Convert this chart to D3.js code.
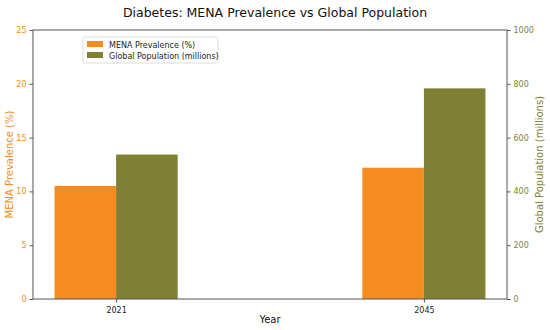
<!DOCTYPE html>
<html lang="en">
<head>
    <meta charset="UTF-8">
    <title>Diabetes: MENA Prevalence vs Global Population</title>
    <script src="https://d3js.org/d3.v7.min.js"></script>
    <style>
        body { margin: 0; background: #fff; font-family: 'DejaVu Sans', sans-serif; }
        svg text { font-family: 'DejaVu Sans', sans-serif; }
    </style>
</head>
<body>
    <svg id="chart" width="550" height="330"></svg>
    <script>
        // data
        const years = ["2021", "2045"];
        const menaPrevalence = [10.5, 12.2];      // %
        const globalPopulation = [537, 783];       // millions
        const leftTicks = [0, 5, 10, 15, 20, 25];
        const rightTicks = [0, 200, 400, 600, 800, 1000];

        const orange = "#f68b20";
        const olive = "#808034";

        const svg = d3.select("#chart"),
              margin = { top: 30, right: 43, bottom: 31, left: 33 },
              width = +svg.attr("width") - margin.left - margin.right,
              height = +svg.attr("height") - margin.top - margin.bottom,
              g = svg.append("g").attr("transform", `translate(${margin.left},${margin.top})`);

        const barW = 0.2;
        // numeric x like matplotlib: bars span -0.2..1.2 with 5% padding
        const x = d3.scaleLinear().domain([-0.27, 1.27]).range([0, width]);
        const yL = d3.scaleLinear().domain([0, 25]).range([height, 0]);
        const yR = d3.scaleLinear().domain([0, 1000]).range([height, 0]);

        // bars
        g.selectAll(".mena").data(menaPrevalence).join("rect")
            .attr("x", (d, i) => x(i - barW))
            .attr("width", x(barW) - x(0))
            .attr("y", d => yL(d))
            .attr("height", d => height - yL(d))
            .attr("fill", orange);

        g.selectAll(".pop").data(globalPopulation).join("rect")
            .attr("x", (d, i) => x(i))
            .attr("width", x(barW) - x(0))
            .attr("y", d => yR(d))
            .attr("height", d => height - yR(d))
            .attr("fill", olive);

        // frame
        g.append("rect").attr("width", width).attr("height", height)
            .attr("fill", "none").attr("stroke", "#555").attr("stroke-width", 1);

        // axes
        const xAxis = g.append("g").attr("transform", `translate(0,${height})`)
            .call(d3.axisBottom(x).tickValues([0, 1]).tickFormat(i => years[i]).tickSize(3.5).tickSizeOuter(0));
        xAxis.select(".domain").remove();
        xAxis.selectAll("text").attr("font-size", 8).attr("fill", "#222").attr("dy", "0.9em");
        xAxis.selectAll("line").attr("stroke", "#555");

        const lAxis = g.append("g")
            .call(d3.axisLeft(yL).tickValues(leftTicks).tickFormat(d3.format("d")).tickSize(3.5).tickSizeOuter(0));
        lAxis.select(".domain").remove();
        lAxis.selectAll("text").attr("font-size", 8).attr("fill", orange);
        lAxis.selectAll("line").attr("stroke", "#555");

        const rAxis = g.append("g").attr("transform", `translate(${width},0)`)
            .call(d3.axisRight(yR).tickValues(rightTicks).tickFormat(d3.format("d")).tickSize(3.5).tickSizeOuter(0));
        rAxis.select(".domain").remove();
        rAxis.selectAll("text").attr("font-size", 8).attr("fill", olive);
        rAxis.selectAll("line").attr("stroke", "#555");

        // labels
        svg.append("text").attr("x", 275).attr("y", 17).attr("text-anchor", "middle")
            .attr("font-size", 12.5).attr("fill", "#111")
            .text("Diabetes: MENA Prevalence vs Global Population");

        svg.append("text").attr("x", margin.left + width / 2).attr("y", 323).attr("text-anchor", "middle")
            .attr("font-size", 10).attr("fill", "#111").text("Year");

        svg.append("text")
            .attr("transform", `translate(13,${margin.top + height / 2}) rotate(-90)`)
            .attr("text-anchor", "middle").attr("font-size", 10).attr("fill", orange)
            .text("MENA Prevalence (%)");

        svg.append("text")
            .attr("transform", `translate(543,${margin.top + height / 2}) rotate(-90)`)
            .attr("text-anchor", "middle").attr("font-size", 10).attr("fill", olive)
            .text("Global Population (millions)");

        // legend
        const legend = svg.append("g").attr("transform", "translate(83,37)");
        legend.append("rect").attr("width", 135).attr("height", 26).attr("rx", 2)
            .attr("fill", "#fff").attr("fill-opacity", 0.8).attr("stroke", "#ddd");
        const items = [["MENA Prevalence (%)", orange], ["Global Population (millions)", olive]];
        items.forEach(([label, color], i) => {
            legend.append("rect").attr("x", 4).attr("y", 4 + i * 11).attr("width", 16).attr("height", 6).attr("fill", color);
            legend.append("text").attr("x", 26).attr("y", 10.5 + i * 11).attr("font-size", 8)
                .attr("fill", "#222").text(label);
        });
    </script>
</body>
</html>
